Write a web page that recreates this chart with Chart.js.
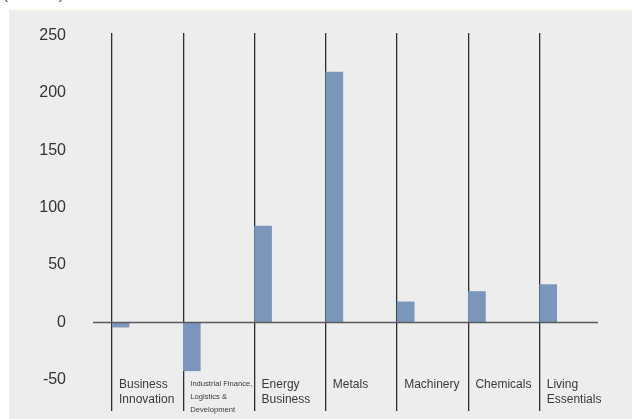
<!DOCTYPE html>
<html>
<head>
<meta charset="utf-8">
<script src="https://cdn.jsdelivr.net/npm/chart.js@4.4.1/dist/chart.umd.min.js"></script>
<style>
  html, body { margin: 0; padding: 0; background: #fff; }
  #wrap { position: relative; width: 632px; height: 419px; overflow: hidden; }
  #panel {
    position: absolute; left: 9px; top: 10px; right: 0; bottom: 0;
    background: #ededed; border-top: 1px solid #f4f2da;
  }
  #unit {
    position: absolute; left: 3px; top: -15px;
    font: 15px "Liberation Sans", Arial, sans-serif; color: #444;
  }
  #chart { position: absolute; left: 0; top: 0; }
</style>
</head>
<body>
<div id="wrap">
  <div id="unit">(¥ billion)</div>
  <div id="panel"></div>
  <canvas id="chart" width="632" height="419"></canvas>
</div>
<script>
/* ---------- data ---------- */

const segments = [
  ["Business", "Innovation"],
  ["Industrial Finance,", "Logistics &", "Development"],
  ["Energy", "Business"],
  "Metals",
  "Machinery",
  "Chemicals",
  ["Living", "Essentials"],
];
const profit = [-4, -42, 84, 218, 18, 27, 33];
const yTicks = [-50, 0, 50, 100, 150, 200, 250];

/* ---------- helpers ---------- */

const BAR_BLUE = "#7a96bb";
const LINE_DARK = "#2e2e2e";
const SEP_DROP = 37;   // separators run this far below the plot area

// long label in the second slot is set small so it fits its slot
const labelFont = (ctx) => ctx.index === 1
  ? { family: "'Liberation Sans', Arial, sans-serif", size: 7.6, lineHeight: 1.72 }
  : { family: "'Liberation Sans', Arial, sans-serif", size: 12, lineHeight: 1.25 };

// horizontal base line at zero, running a bit past the separators
const zeroLine = {
  id: "zeroLine",
  afterDatasetsDraw(chart) {
    const { ctx, chartArea, scales } = chart;
    const y = scales.y.getPixelForValue(0);
    ctx.save();
    ctx.strokeStyle = "#5a5a5a";
    ctx.lineWidth = 1.6;
    ctx.beginPath();
    ctx.moveTo(chartArea.left - 19, y);
    ctx.lineTo(chartArea.right - 13, y);
    ctx.stroke();
    ctx.restore();
  },
};

/* ---------- chart ---------- */

new Chart(document.getElementById("chart"), {
  type: "bar",
  plugins: [zeroLine],
  data: {
    datasets: [{
      data: profit.map((v, i) => ({ x: i, y: v })),
      xAxisID: "xb",
      backgroundColor: BAR_BLUE,
      borderWidth: 0,
      barThickness: 17,
    }],
  },
  options: {
    responsive: false,
    animation: false,
    events: [],
    layout: { padding: { left: 0, right: 21, top: 33, bottom: 0 } },
    plugins: { legend: { display: false }, tooltip: { enabled: false } },
    scales: {
      // separators + segment names; one slot per segment
      x: {
        type: "linear",
        position: "bottom",
        min: 0,
        max: segments.length,
        offset: false,
        border: { display: false },
        grid: {
          offset: false,
          drawTicks: true,
          tickLength: SEP_DROP,
          lineWidth: 1.3,
          color: (ctx) => ctx.tick && ctx.tick.value < segments.length ? LINE_DARK : "transparent",
        },
        ticks: {
          stepSize: 1,
          autoSkip: false,
          maxRotation: 0,
          align: "start",
          labelOffset: 7,
          padding: -SEP_DROP + 3,
          color: "#3a3a3a",
          font: labelFont,
          callback: (v) => segments[v] ?? "",
        },
        afterFit: (s) => { s.height = 45; },
      },
      // bars sit just right of each separator
      xb: {
        type: "linear",
        display: false,
        min: -8.5 / 71.3,
        max: segments.length - 8.5 / 71.3,
        offset: false,
        grid: { offset: false },
      },
      y: {
        min: -44.8,
        max: 252,
        border: { display: false },
        grid: {
          drawOnChartArea: false,
          drawTicks: true,
          tickLength: 46,
          color: "transparent",
        },
        afterBuildTicks: (s) => { s.ticks = yTicks.map((v) => ({ value: v })); },
        ticks: {
          padding: 0,
          autoSkip: false,
          color: "#333",
          font: { family: "'Liberation Sans', Arial, sans-serif", size: 16 },
        },
        afterFit: (s) => { s.width = 112; },
      },
    },
  },
});
</script>
</body>
</html>
